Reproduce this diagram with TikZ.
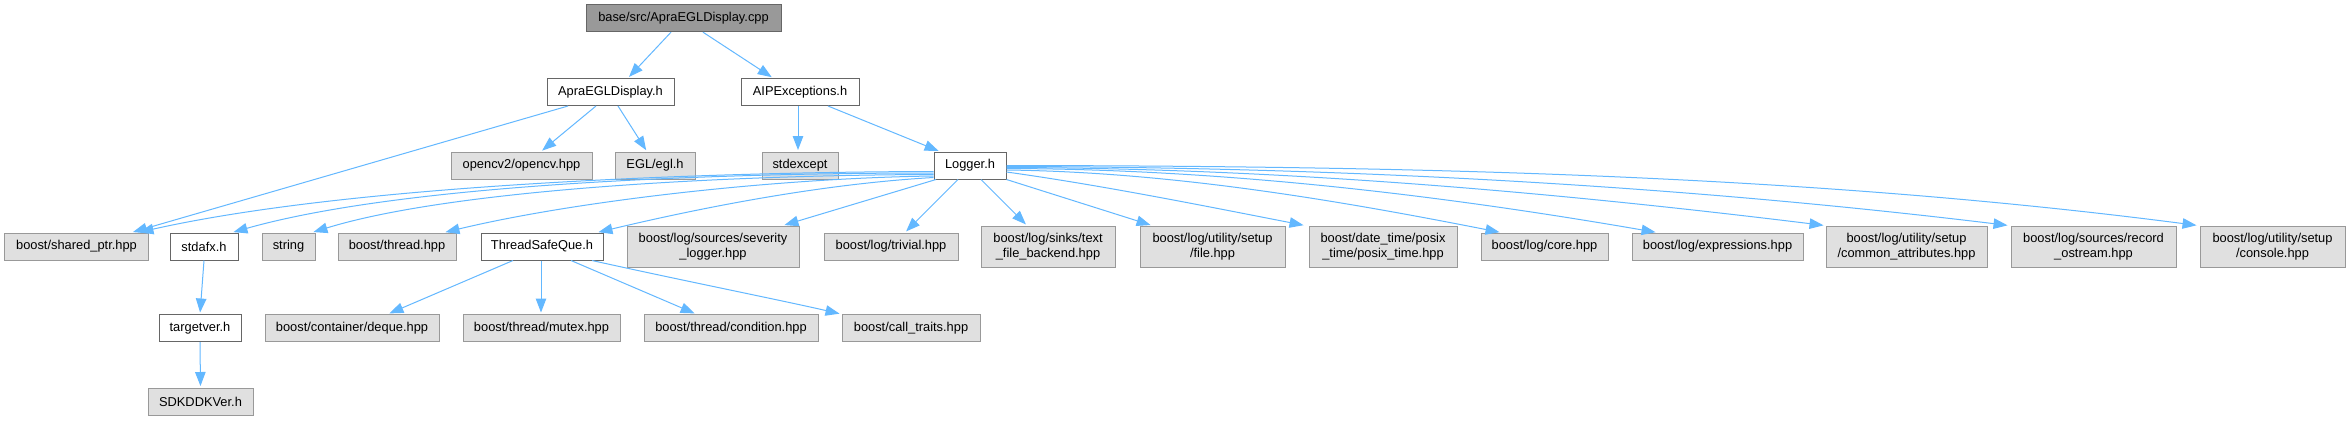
\documentclass[tikz,border=0pt]{standalone}
\usepackage{fontspec}
\setmainfont{Liberation Sans}
\usetikzlibrary{arrows.meta}
\definecolor{edgeblue}{HTML}{63B8FF}
\definecolor{extfill}{HTML}{E0E0E0}
\definecolor{extdraw}{HTML}{999999}
\definecolor{rootfill}{HTML}{999999}
\definecolor{rootdraw}{HTML}{666666}
\definecolor{intdraw}{HTML}{666666}
\begin{document}
\begin{tikzpicture}[x=1bp,y=-1bp,
 box/.style={rectangle, inner sep=0pt, line width=1bp, minimum height=27bp, align=center, font=\fontsize{12.9}{15}\selectfont},
 rootbox/.style={box, fill=rootfill, draw=rootdraw},
 intbox/.style={box, fill=white, draw=intdraw},
 extbox/.style={box, fill=extfill, draw=extdraw},
 tall/.style={minimum height=41bp},
 dep/.style={draw=edgeblue, line width=1bp, -{Triangle[length=14bp,width=10.5bp]}, shorten >=1.5bp}
]
\fill[white] (0,0) rectangle (2350,420);
\useasboundingbox (0,0) rectangle (2350,420);

% row 0
\node[rootbox, minimum width=195bp] (root) at (683.5,18.2) {base/src/ApraEGLDisplay.cpp};
% row 1
\node[intbox, minimum width=127bp] (apra) at (610.5,92) {ApraEGLDisplay.h};
\node[intbox, minimum width=118bp] (aip) at (800,92) {AIPExceptions.h};
% row 2
\node[extbox, minimum width=141bp] (opencv) at (521.5,165.5) {opencv2/opencv.hpp};
\node[extbox, minimum width=80bp] (egl) at (655,165.5) {EGL/egl.h};
\node[extbox, minimum width=76bp] (stdexcept) at (800,165.5) {stdexcept};
\node[intbox, minimum width=72bp] (logger) at (970,165.5) {Logger.h};
% row 3
\node[extbox, minimum width=143bp] (shared) at (76.5,246.5) {boost/shared\_ptr.hpp};
\node[intbox, minimum width=68bp] (stdafx) at (204,246.5) {stdafx.h};
\node[extbox, minimum width=53bp] (string) at (288.5,246.5) {string};
\node[extbox, minimum width=118bp] (thread) at (397,246.5) {boost/thread.hpp};
\node[intbox, minimum width=122bp] (tsq) at (542,246.5) {ThreadSafeQue.h};
\node[extbox, tall, minimum width=172bp] (severity) at (713,246.5) {boost/log/sources/severity\\\_logger.hpp};
\node[extbox, minimum width=134bp] (trivial) at (891,246.5) {boost/log/trivial.hpp};
\node[extbox, tall, minimum width=134bp] (textfile) at (1048,246.5) {boost/log/sinks/text\\\_file\_backend.hpp};
\node[extbox, tall, minimum width=145bp] (file) at (1212.5,246.5) {boost/log/utility/setup\\/file.hpp};
\node[extbox, tall, minimum width=148bp] (posix) at (1383,246.5) {boost/date\_time/posix\\\_time/posix\_time.hpp};
\node[extbox, minimum width=127bp] (core) at (1544.5,246.5) {boost/log/core.hpp};
\node[extbox, minimum width=171bp] (expr) at (1717.5,246.5) {boost/log/expressions.hpp};
\node[extbox, tall, minimum width=161bp] (common) at (1906.5,246.5) {boost/log/utility/setup\\/common\_attributes.hpp};
\node[extbox, tall, minimum width=165bp] (record) at (2093.5,246.5) {boost/log/sources/record\\\_ostream.hpp};
\node[extbox, tall, minimum width=145bp] (console) at (2272.5,246.5) {boost/log/utility/setup\\/console.hpp};
% row 4
\node[intbox, minimum width=82bp] (targetver) at (200,328) {targetver.h};
\node[extbox, minimum width=174bp] (deque) at (352,328) {boost/container/deque.hpp};
\node[extbox, minimum width=157bp] (mutex) at (541.5,328) {boost/thread/mutex.hpp};
\node[extbox, minimum width=174bp] (condition) at (731,328) {boost/thread/condition.hpp};
\node[extbox, minimum width=138bp] (calltraits) at (911,328) {boost/call\_traits.hpp};
% row 5
\node[extbox, minimum width=105bp] (sdk) at (200.5,401.5) {SDKDDKVer.h};

% edges
\draw[dep] ([xshift=-12.5bp]root.south) -- ([xshift=17.5bp]apra.north);
\draw[dep] ([xshift=19.5bp]root.south) -- ([xshift=-27bp]aip.north);
\draw[dep] ([xshift=-42.5bp]apra.south) -- ([xshift=55bp]shared.north);
\draw[dep] ([xshift=-14.5bp]apra.south) -- ([xshift=19.5bp]opencv.north);
\draw[dep] ([xshift=7.5bp]apra.south) -- ([xshift=-8bp]egl.north);
\draw[dep] ([xshift=-2bp]aip.south) -- ([xshift=-2bp]stdexcept.north);
\draw[dep] ([xshift=28bp]aip.south) -- ([xshift=-30bp]logger.north);

% Logger left side
\draw[dep] ([yshift=-6bp]logger.west) .. controls (700,172) and (350,185) .. ([xshift=61.5bp]shared.north);
\draw[dep] ([yshift=-7.5bp]logger.west) .. controls (700,173) and (400,185) .. ([xshift=28bp]stdafx.north);
\draw[dep] ([yshift=-9bp]logger.west) .. controls (720,175) and (450,190) .. ([xshift=23.5bp]string.north);
\draw[dep] ([yshift=-10.5bp]logger.west) .. controls (780,178) and (580,200) .. ([xshift=47bp]thread.north);
\draw[dep] ([yshift=-12bp]logger.west) .. controls (820,184) and (700,208) .. ([xshift=55bp]tsq.north);
\draw[dep] ([xshift=-34bp]logger.south) -- ([xshift=70bp]severity.north);
% Logger down
\draw[dep] ([xshift=-12bp]logger.south) -- ([xshift=14bp]trivial.north);
\draw[dep] ([xshift=11bp]logger.south) -- ([xshift=-21bp]textfile.north);
\draw[dep] (logger.south east) -- ([xshift=-60.5bp]file.north);
% Logger right side
\draw[dep] ([yshift=-6.5bp]logger.east) .. controls (1100,185) and (1200,205) .. ([xshift=-78bp]posix.north);
\draw[dep] ([yshift=-4.5bp]logger.east) .. controls (1171,172) and (1336,200) .. ([xshift=-43.5bp]core.north);
\draw[dep] ([yshift=-3bp]logger.east) .. controls (1223,169) and (1440,195) .. ([xshift=-60.5bp]expr.north);
\draw[dep] ([yshift=-2bp]logger.east) .. controls (1279,168) and (1552,192) .. ([xshift=-81.5bp]common.north);
\draw[dep] ([yshift=-1bp]logger.east) .. controls (1340,167) and (1675,185) .. ([xshift=-84.5bp]record.north);
\draw[dep] (logger.east) .. controls (1403,166) and (1801,174) .. ([xshift=-74.5bp]console.north);

% ThreadSafeQue
\draw[dep] ([xshift=-29bp]tsq.south) -- ([xshift=36bp]deque.north);
\draw[dep] ([xshift=-1bp]tsq.south) -- ([xshift=-0.5bp]mutex.north);
\draw[dep] ([xshift=29bp]tsq.south) -- ([xshift=-35bp]condition.north);
\draw[dep] ([xshift=50bp]tsq.south) .. controls (680,280) and (780,300) .. ([xshift=-70bp]calltraits.north);

% stdafx chain
\draw[dep] (stdafx.south) -- (targetver.north);
\draw[dep] (targetver.south) -- (sdk.north);
\end{tikzpicture}
\end{document}
